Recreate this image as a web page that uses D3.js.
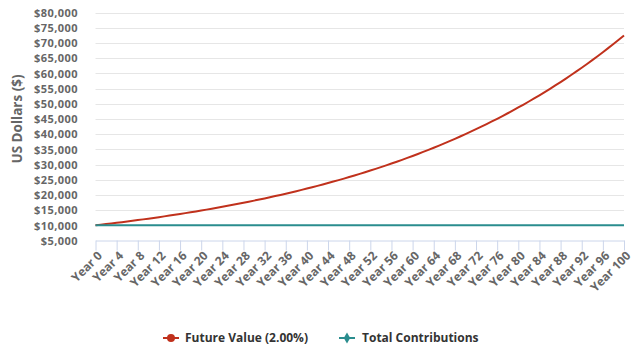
<!DOCTYPE html>
<html>
<head>
<meta charset="utf-8">
<script src="https://cdn.jsdelivr.net/npm/d3@7/dist/d3.min.js"></script>
<style>
  html, body { margin: 0; padding: 0; background: #fff; }
  svg { display: block; font-family: "Open Sans", sans-serif; }
</style>
</head>
<body>
<svg id="chart" width="636" height="348"></svg>
<script>
// Years 0..100 of a $10,000 deposit growing at 2.00% per year
const years = d3.range(0, 101);
const categories = years.map(y => "Year " + y);

const futureValue = [
  10000, 10200, 10404, 10612, 10824, 11041, 11262, 11487, 11717, 11951,
  12190, 12434, 12682, 12936, 13195, 13459, 13728, 14002, 14282, 14568,
  14859, 15157, 15460, 15769, 16084, 16406, 16734, 17069, 17410, 17758,
  18114, 18476, 18845, 19222, 19607, 19999, 20399, 20807, 21223, 21647,
  22080, 22522, 22972, 23432, 23901, 24379, 24866, 25363, 25871, 26388,
  26916, 27454, 28003, 28563, 29135, 29717, 30312, 30918, 31536, 32167,
  32810, 33467, 34136, 34819, 35515, 36225, 36950, 37689, 38443, 39211,
  39996, 40795, 41611, 42444, 43293, 44158, 45042, 45942, 46861, 47798,
  48754, 49729, 50724, 51739, 52773, 53829, 54905, 56003, 57124, 58266,
  59431, 60620, 61832, 63069, 64330, 65617, 66929, 68268, 69633, 71026,
  72446
];

const totalContributions = [
  10000, 10000, 10000, 10000, 10000, 10000, 10000, 10000, 10000, 10000,
  10000, 10000, 10000, 10000, 10000, 10000, 10000, 10000, 10000, 10000,
  10000, 10000, 10000, 10000, 10000, 10000, 10000, 10000, 10000, 10000,
  10000, 10000, 10000, 10000, 10000, 10000, 10000, 10000, 10000, 10000,
  10000, 10000, 10000, 10000, 10000, 10000, 10000, 10000, 10000, 10000,
  10000, 10000, 10000, 10000, 10000, 10000, 10000, 10000, 10000, 10000,
  10000, 10000, 10000, 10000, 10000, 10000, 10000, 10000, 10000, 10000,
  10000, 10000, 10000, 10000, 10000, 10000, 10000, 10000, 10000, 10000,
  10000, 10000, 10000, 10000, 10000, 10000, 10000, 10000, 10000, 10000,
  10000, 10000, 10000, 10000, 10000, 10000, 10000, 10000, 10000, 10000,
  10000
];

const tickLabels = [
  "Year 0", "Year 4", "Year 8", "Year 12", "Year 16", "Year 20", "Year 24",
  "Year 28", "Year 32", "Year 36", "Year 40", "Year 44", "Year 48", "Year 52",
  "Year 56", "Year 60", "Year 64", "Year 68", "Year 72", "Year 76", "Year 80",
  "Year 84", "Year 88", "Year 92", "Year 96", "Year 100"
];

const yTicks = [5000, 10000, 15000, 20000, 25000, 30000, 35000, 40000,
  45000, 50000, 55000, 60000, 65000, 70000, 75000, 80000];

const seriesNames = ["Future Value (2.00%)", "Total Contributions"];
const seriesColors = ["#c0311c", "#2a8d8e"];

const svg = d3.select("#chart");

const x = d3.scalePoint().domain(categories).range([95.5, 624]);
const y = d3.scaleLinear().domain([5000, 80000]).range([240.5, 12.5]);

// horizontal grid lines
svg.append("g")
  .selectAll("line")
  .data(yTicks.slice(1))
  .join("line")
  .attr("x1", 95.5).attr("x2", 624)
  .attr("y1", d => Math.round(y(d)) + 0.5)
  .attr("y2", d => Math.round(y(d)) + 0.5)
  .attr("stroke", "#e6e6e6")
  .attr("stroke-width", 1);

// y axis labels
const yAxis = d3.axisLeft(y)
  .tickValues(yTicks)
  .tickSize(0)
  .tickPadding(0)
  .tickFormat(d => "$" + d3.format(",")(d));
svg.append("g")
  .attr("transform", "translate(78,0)")
  .call(yAxis)
  .call(g => g.select(".domain").remove())
  .call(g => g.selectAll("text")
    .attr("fill", "#666")
    .attr("font-family", "'Open Sans', sans-serif")
    .attr("font-weight", "bold")
    .attr("font-size", "11px")
    .attr("letter-spacing", "0.45px")
    .attr("dy", "0.35em"));

// y axis title
svg.append("text")
  .attr("transform", "translate(22,119) rotate(-90)")
  .attr("text-anchor", "middle")
  .attr("fill", "#666")
  .attr("font-weight", "bold")
  .attr("font-size", "13.5px")
  .text("US Dollars ($)");

// x axis
const xAxis = d3.axisBottom(x)
  .tickValues(tickLabels)
  .tickSize(10)
  .tickSizeOuter(0)
  .tickPadding(2);
svg.append("g")
  .attr("transform", "translate(0,240.5)")
  .call(xAxis)
  .call(g => g.select(".domain").attr("stroke", "#ccd6eb"))
  .call(g => g.selectAll(".tick line").attr("stroke", "#ccd6eb"))
  .call(g => g.selectAll("text")
    .attr("fill", "#666")
    .attr("font-family", "'Open Sans', sans-serif")
    .attr("font-weight", "bold")
    .attr("font-size", "12px")
    .attr("text-anchor", "end")
    .attr("transform", "translate(4,13) rotate(-45)")
    .attr("dy", "0.35em")
    .attr("y", 0));

// series lines
const line = d3.line()
  .x((d, i) => x(categories[i]))
  .y(d => y(d));

[futureValue, totalContributions].forEach((vals, i) => {
  svg.append("path")
    .datum(vals)
    .attr("fill", "none")
    .attr("stroke", seriesColors[i])
    .attr("stroke-width", 2)
    .attr("stroke-linejoin", "round")
    .attr("d", line);
});

// legend
const legendY = 338;
const legendItems = [
  { name: seriesNames[0], color: seriesColors[0], cx: 171, tx: 185, symbol: d3.symbolCircle, size: 50 },
  { name: seriesNames[1], color: seriesColors[1], cx: 347, tx: 362, symbol: d3.symbolDiamond, size: 36 }
];
const lg = svg.append("g");
legendItems.forEach(it => {
  lg.append("line")
    .attr("x1", it.cx - 8).attr("x2", it.cx + 8)
    .attr("y1", legendY).attr("y2", legendY)
    .attr("stroke", it.color).attr("stroke-width", 2);
  lg.append("path")
    .attr("d", d3.symbol().type(it.symbol).size(it.size)())
    .attr("transform", `translate(${it.cx},${legendY})`)
    .attr("fill", it.color);
  lg.append("text")
    .attr("x", it.tx).attr("y", legendY)
    .attr("dy", "0.35em")
    .attr("fill", "#333")
    .attr("font-weight", "bold")
    .attr("font-size", "12px")
    .text(it.name);
});
</script>
</body>
</html>
